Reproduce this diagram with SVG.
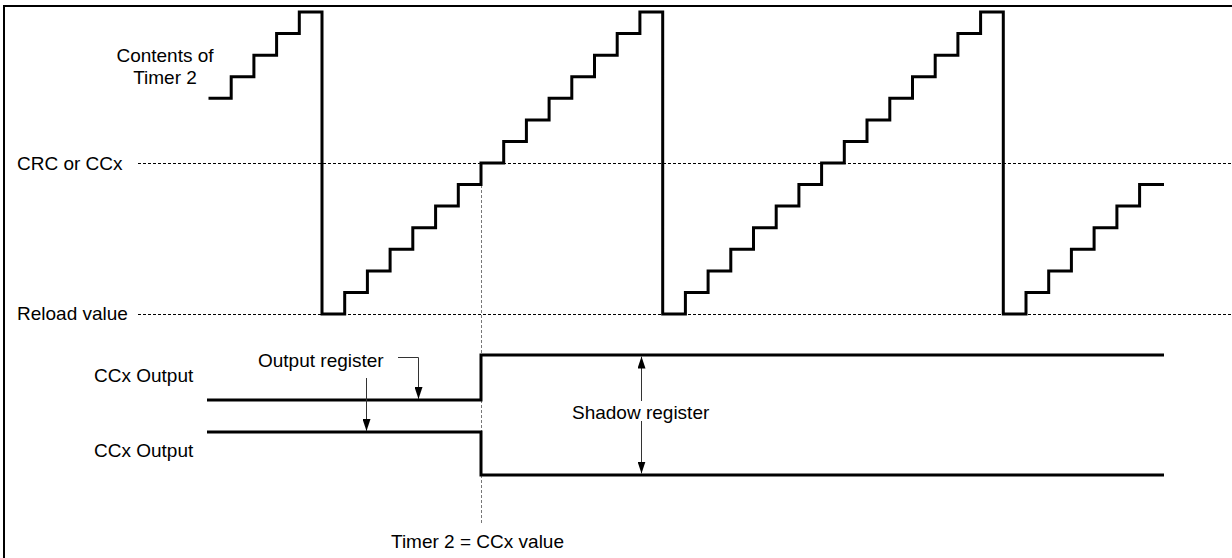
<svg xmlns="http://www.w3.org/2000/svg" width="1232" height="558" viewBox="0 0 1232 558">
<style>
  .lbl { font-family: "Liberation Sans", Arial, sans-serif; font-size: 19px; fill: #000; }
  .wave { fill: none; stroke: #000; stroke-width: 3; stroke-linejoin: miter; }
  .ref { fill: none; stroke: #000; stroke-width: 1; stroke-dasharray: 3 2; }
  .mark { fill: none; stroke: #777; stroke-width: 1; stroke-dasharray: 3 2; }
  .lead { fill: none; stroke: #333; stroke-width: 1; }
</style>
<defs>
  <marker id="ah" viewBox="0 0 12 8" refX="12" refY="4" markerWidth="12" markerHeight="8" markerUnits="userSpaceOnUse" orient="auto-start-reverse">
    <path d="M0,0 L12,4 L0,8 Z" fill="#000"/>
  </marker>
</defs>
<rect x="0" y="0" width="1232" height="558" fill="#fff"/>
<g id="frame">
  <path d="M4,560 V6 H1234" fill="none" stroke="#000" stroke-width="2"/>
</g>
<g id="reference-lines">
  <line class="ref" x1="138" y1="163.5" x2="1232" y2="163.5"/>
  <line class="ref" x1="138" y1="314.5" x2="1232" y2="314.5"/>
  <line class="mark" x1="481.5" y1="185" x2="481.5" y2="525"/>
</g>
<g id="timer2-contents">
  <path class="wave" d="M208.5,98.3 H231.2 V76.7 H253.9 V55.2 H276.6 V33.6 H299.3 V12 H322 V314 H344.7 V292.4 H367.4 V270.9 H390.1 V249.3 H412.8 V227.7 H435.6 V206.1 H458.3 V184.6 H481 V163 H503.7 V141.4 H526.4 V119.9 H549.1 V98.3 H571.8 V76.7 H594.5 V55.2 H617.2 V33.6 H639.9 V12 H662.7 V314 H685.4 V292.4 H708.1 V270.9 H730.8 V249.3 H753.5 V227.7 H776.2 V206.1 H798.9 V184.6 H821.6 V163 H844.3 V141.4 H867 V119.9 H889.8 V98.3 H912.5 V76.7 H935.2 V55.2 H957.9 V33.6 H980.6 V12 H1003.3 V314 H1026 V292.4 H1048.7 V270.9 H1071.4 V249.3 H1094.1 V227.7 H1116.9 V206.1 H1139.6 V184.6 H1164"/>
</g>
<g id="ccx-output-1">
  <path class="wave" d="M207,400 H481 V355 H1164"/>
</g>
<g id="ccx-output-2">
  <path class="wave" d="M207,432 H481 V475 H1164"/>
</g>
<g id="labels">
  <text class="lbl" x="165" y="62" text-anchor="middle">Contents of</text>
  <text class="lbl" x="165" y="84" text-anchor="middle">Timer 2</text>
  <text class="lbl" x="17" y="169.5">CRC or CCx</text>
  <text class="lbl" x="17" y="320">Reload value</text>
  <text class="lbl" x="94" y="382">CCx Output</text>
  <text class="lbl" x="94" y="457">CCx Output</text>
  <text class="lbl" x="258" y="367">Output register</text>
  <text class="lbl" x="572" y="418.5">Shadow register</text>
  <text class="lbl" x="391" y="548">Timer 2 = CCx value</text>
</g>
<g id="connectors">
  <path class="lead" d="M398,357.5 H418.5 V399" marker-end="url(#ah)"/>
  <path class="lead" d="M366.5,378 V431" marker-end="url(#ah)"/>
  <path class="lead" d="M641.5,401 V356.5" marker-end="url(#ah)"/>
  <path class="lead" d="M641.5,421 V473.5" marker-end="url(#ah)"/>
</g>
</svg>
